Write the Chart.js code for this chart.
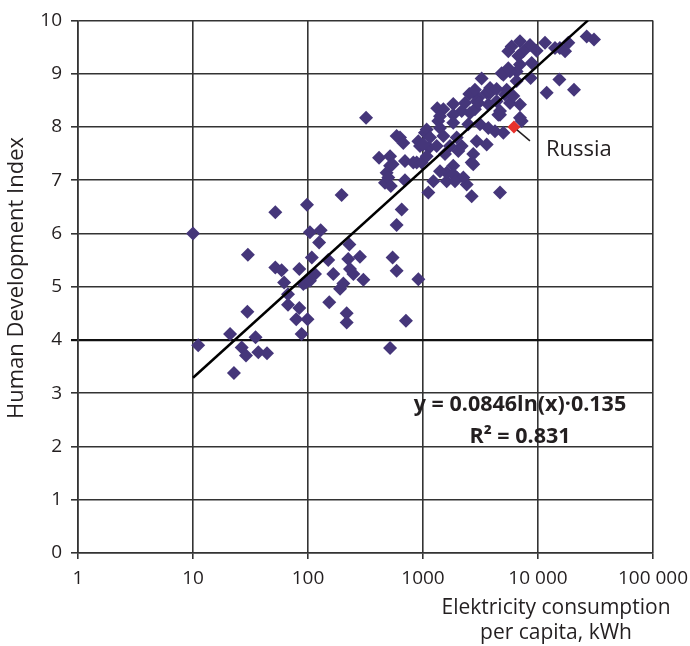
<!DOCTYPE html>
<html>
<head>
<meta charset="utf-8">
<script src="https://cdn.jsdelivr.net/npm/chart.js@4"></script>
<style>
  html, body { margin: 0; padding: 0; background: #fff; }
</style>
</head>
<body>
<canvas id="grafico" width="690" height="646"></canvas>
<script>
// Datos: consumo eléctrico per cápita (kWh) vs índice de desarrollo humano
const consumo = [
  10, 11.1, 21, 22.7, 26.5, 28.9, 29.7, 30, 35, 37, 44, 52, 52, 59, 62, 67, 67, 79, 84, 84,
  88, 91, 96, 98, 99, 104, 104, 108, 115, 125, 129, 150, 153, 166, 190, 196, 203, 217, 217, 224,
  229, 232, 248, 283, 303, 320, 517, 544, 590, 590, 653, 711, 911,
  415, 517, 517, 544, 697, 824, 881, 973, 483, 467, 499, 525, 697, 1113, 1130, 590, 631, 674,
  911, 942, 1040, 1076,
  1231, 1607, 1963, 2399, 2650, 1331, 1358, 1833, 2529, 3236, 3030, 3580, 2170, 2830, 3700, 4370,
  5165, 5710, 6970, 4520, 7210, 1406, 1833, 2477, 3130, 3700, 4230, 5000, 1150, 1503, 1963, 1006,
  1315, 1718, 2170, 2930, 3580, 1076, 1554, 2028, 2650, 1833, 1406, 1833, 2243, 1607, 1897, 4675,
  2736, 2736,
  26500, 30700, 18350, 15500, 17200, 14060, 11500, 9730, 8520, 6970, 5900, 5520, 7450, 6740, 8810,
  6970, 6520, 5710, 5000, 8630, 6520, 15350, 11900, 20560, 5340, 6100, 4675, 6970, 3830, 2930,
  4830, 5520, 3830, 2830, 2320, 3030, 1503, 1406, 1833, 2563, 4370, 4675
];
const idh = [
  6.0, 3.9, 4.11, 3.38, 3.86, 3.71, 4.53, 5.6, 4.05, 3.77, 3.75, 6.4, 5.36, 5.31, 5.08, 4.86, 4.66, 4.39, 5.33, 4.6,
  4.11, 5.05, 5.08, 6.54, 4.39, 6.02, 5.11, 5.55, 5.24, 5.83, 6.06, 5.5, 4.71, 5.24, 4.96, 6.72, 5.06, 4.5, 4.33, 5.52,
  5.79, 5.33, 5.24, 5.56, 5.13, 8.17, 3.85, 5.55, 5.3, 6.16, 6.45, 4.36, 5.14,
  7.42, 7.45, 7.27, 7.3, 7.36, 7.33, 7.33, 7.33, 7.14, 6.95, 7.05, 6.89, 7.0, 6.77, 7.61, 7.83, 7.8, 7.7,
  7.73, 7.64, 7.89, 7.95,
  6.98, 7.14, 7.05, 6.92, 6.7, 8.35, 8.11, 8.43, 8.62, 8.91, 8.55, 8.64, 8.3, 8.33, 8.42, 8.48,
  8.61, 8.45, 8.42, 8.23, 8.11, 7.98, 8.08, 8.05, 8.05, 7.98, 7.92, 7.89, 7.8, 7.83, 7.8, 7.67,
  7.64, 7.64, 7.64, 7.73, 7.67, 7.45, 7.49, 7.55, 7.33, 7.27, 7.17, 7.11, 7.05, 6.98, 6.98, 6.77,
  7.49, 7.3,
  9.7, 9.64, 9.58, 9.48, 9.42, 9.48, 9.58, 9.43, 9.54, 9.61, 9.51, 9.42, 9.42, 9.33, 9.2,
  9.17, 9.04, 9.04, 8.98, 8.92, 8.86, 8.89, 8.64, 8.7, 8.7, 8.58, 8.23, 8.17, 8.64, 8.48,
  9.01, 9.1, 8.73, 8.7, 8.45, 8.45, 8.33, 8.2, 8.23, 8.26, 8.71, 8.3
];

// Rusia (punto destacado)
const rusiaX = [6180];
const rusiaY = [8.0];

// Línea de tendencia (extremos)
const tendenciaX = [10, 27200];
const tendenciaY = [3.29, 10];

// Ejes
const ticksX = [1, 10, 100, 1000, 10000, 100000];
const etiquetasX = ['1', '10', '100', '1000', '10 000', '100 000'];

const tituloY = 'Human Development Index';
const tituloX = ['Elektricity consumption', 'per capita, kWh'];
const ecuacion = ['y = 0.0846ln(x)·0.135', 'R² = 0.831'];
const etiquetaRusia = 'Russia';

const FUENTE = '"Open Sans", "Noto Sans", sans-serif';

// Textos extra: títulos, ecuación y etiqueta de Rusia
const textos = {
  id: 'textos',
  afterDraw(chart) {
    const { ctx } = chart;
    const x = chart.scales.x;
    const y = chart.scales.y;
    ctx.save();
    ctx.fillStyle = '#231f20';

    // Título eje Y
    ctx.save();
    ctx.font = '22px ' + FUENTE;
    ctx.textAlign = 'center';
    ctx.textBaseline = 'middle';
    ctx.translate(17, 278);
    ctx.rotate(-Math.PI / 2);
    ctx.fillText(tituloY, 0, 0);
    ctx.restore();

    // Título eje X (dos líneas)
    ctx.font = '21px ' + FUENTE;
    ctx.textAlign = 'center';
    ctx.textBaseline = 'middle';
    ctx.fillText(tituloX[0], 556, 608);
    ctx.fillText(tituloX[1], 556, 633);

    // Ecuación de la tendencia
    ctx.font = 'bold 21.5px ' + FUENTE;
    ctx.fillText(ecuacion[0], 520, 405);
    ctx.fillText(ecuacion[1], 520, 437);

    // Rusia
    const px = x.getPixelForValue(rusiaX[0]);
    const py = y.getPixelForValue(rusiaY[0]);
    ctx.strokeStyle = '#231f20';
    ctx.lineWidth = 1.5;
    ctx.beginPath();
    ctx.moveTo(px + 3, py + 3);
    ctx.lineTo(px + 16, py + 14);
    ctx.stroke();
    ctx.font = '22px ' + FUENTE;
    ctx.textAlign = 'left';
    ctx.fillText(etiquetaRusia, 546, 150);

    ctx.restore();
  }
};

const colorGrilla = (c) => (c.tick && c.tick.value === 4) ? '#111' : '#333';
const anchoGrilla = (c) => (c.tick && c.tick.value === 4) ? 2.2 : 1.6;

new Chart(document.getElementById('grafico').getContext('2d'), {
  type: 'scatter',
  data: {
    datasets: [
      {
        label: 'Russia',
        data: rusiaX.map((v, i) => ({ x: v, y: rusiaY[i] })),
        pointStyle: 'rectRot',
        pointRadius: 6.5,
        backgroundColor: '#e8312c',
        borderColor: '#e8312c',
        borderWidth: 0,
        order: 0
      },
      {
        label: 'Tendencia',
        type: 'line',
        data: tendenciaX.map((v, i) => ({ x: v, y: tendenciaY[i] })),
        borderColor: '#000',
        borderWidth: 2.5,
        pointRadius: 0,
        fill: false,
        order: 1
      },
      {
        label: 'Países',
        data: consumo.map((v, i) => ({ x: v, y: idh[i] })),
        pointStyle: 'rectRot',
        pointRadius: 7,
        backgroundColor: '#45367a',
        borderColor: '#45367a',
        borderWidth: 0,
        order: 2
      }
    ]
  },
  options: {
    responsive: false,
    animation: false,
    layout: { padding: { top: 20, right: 37, left: 0, bottom: 0 } },
    plugins: {
      legend: { display: false },
      tooltip: { enabled: false }
    },
    scales: {
      x: {
        type: 'logarithmic',
        min: 1,
        max: 100000,
        afterBuildTicks: (scale) => { scale.ticks = ticksX.map(v => ({ value: v })); },
        afterFit: (scale) => { scale.height = 93; scale.paddingRight = 0; scale.paddingLeft = 0; },
        ticks: {
          autoSkip: false,
          maxRotation: 0,
          padding: 8,
          color: '#231f20',
          font: { family: FUENTE, size: 19 },
          callback: (v) => etiquetasX[ticksX.indexOf(v)]
        },
        grid: { color: colorGrilla, lineWidth: anchoGrilla, tickLength: 6 },
        border: { color: '#333', width: 1.6 }
      },
      y: {
        min: 0,
        max: 10,
        afterFit: (scale) => { scale.width = 78; },
        ticks: {
          stepSize: 1,
          padding: 9,
          color: '#231f20',
          font: { family: FUENTE, size: 19 }
        },
        grid: { color: colorGrilla, lineWidth: anchoGrilla, tickLength: 7 },
        border: { color: '#333', width: 1.6 }
      }
    }
  },
  plugins: [textos]
});
</script>
</body>
</html>
